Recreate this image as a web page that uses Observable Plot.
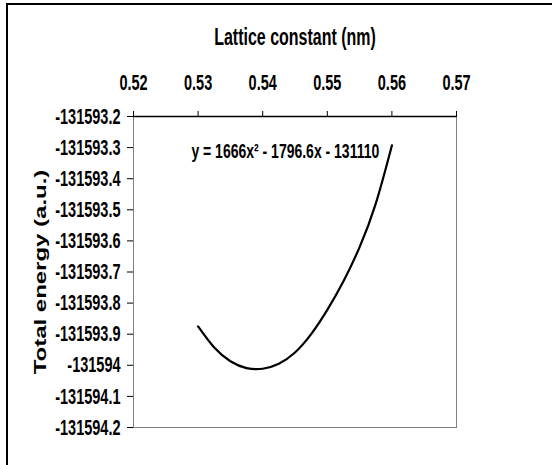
<!DOCTYPE html>
<html><head><meta charset="utf-8">
<script src="https://cdn.jsdelivr.net/npm/d3@7"></script>
<script src="https://cdn.jsdelivr.net/npm/@observablehq/plot@0.6"></script>
<style>
html,body{margin:0;padding:0;background:#fff;}
#wrap{position:relative;width:552px;height:465px;overflow:hidden;}
#border{position:absolute;left:6px;top:3px;width:700px;height:700px;border-left:2px solid #000;border-top:2px solid #000;pointer-events:none;}
</style></head><body>
<div id="wrap"><div id="chart"></div><div id="border"></div></div>
<script>
const latticeConstants = [0.53, 0.5325, 0.535, 0.5375, 0.54, 0.5425, 0.545, 0.5475, 0.55, 0.5525, 0.555, 0.5575, 0.56];
const totalEnergies = [-131593.875, -131593.943, -131593.987, -131594.009, -131594.011, -131593.995, -131593.959, -131593.900, -131593.822, -131593.730, -131593.620, -131593.480, -131593.293];
const xTicks = [0.52, 0.53, 0.54, 0.55, 0.56, 0.57];
const yTicks = [-131593.2, -131593.3, -131593.4, -131593.5, -131593.6, -131593.7, -131593.8, -131593.9, -131594.0, -131594.1, -131594.2];
const xTitle = "Lattice constant (nm)";
const yTitle = "Total energy (a.u.)";
const fitLabel = ["y = 1666x² - 1796.6x - 131110"];
const fitLabelX = [0.5435];
const fitLabelY = [-131593.31];

const data = latticeConstants.map((x, i) => ({x, y: totalEnergies[i]}));
const fmtY = d => { const s = d.toFixed(1); return s.endsWith(".0") ? s.slice(0, -2) : s; };

const plot = Plot.plot({
  width: 552, height: 465,
  marginLeft: 133, marginRight: 96, marginTop: 116, marginBottom: 38,
  style: {fontFamily: "'Liberation Sans', Arial, sans-serif", fontWeight: "bold", background: "white", color: "black"},
  x: {domain: [0.52, 0.57], axis: null},
  y: {domain: [-131594.2, -131593.2], axis: null},
  marks: [
    Plot.frame({stroke: "#808080"}),
    Plot.ruleY([yTicks[0]], {stroke: "black", strokeWidth: 1.5}),
    Plot.axisX({anchor: "top", ticks: xTicks, tickSize: 6, tickPadding: 23, tickFormat: d => d.toFixed(2), fontSize: 14.5, label: null, stroke: "black"}),
    Plot.axisY({anchor: "left", ticks: yTicks, tickSize: 6, tickPadding: 7, tickFormat: fmtY, fontSize: 14.5, label: null}),
    Plot.text([xTitle], {frameAnchor: "top", lineAnchor: "middle", dy: -79, fontSize: 16, fontWeight: "bold", text: d => d}),
    Plot.text([yTitle], {frameAnchor: "left", textAnchor: "middle", lineAnchor: "middle", rotate: -90, dx: -93, fontSize: 16, fontWeight: "bold", text: d => d}),
    Plot.line(data, {x: "x", y: "y", curve: "natural", stroke: "black", strokeWidth: 2.2}),
    Plot.text(fitLabel, {x: (d, i) => fitLabelX[i], y: (d, i) => fitLabelY[i], text: d => d, fontSize: 14, fontWeight: "bold"})
  ]
});
document.getElementById("chart").appendChild(plot);

// vertical stretch of text glyphs, as in the reference
const S = 1.5;
plot.querySelectorAll("text").forEach(t => {
  const g = document.createElementNS("http://www.w3.org/2000/svg", "g");
  t.parentNode.insertBefore(g, t);
  g.appendChild(t);
  const b = g.getBBox();
  const cy = b.y + b.height / 2;
  g.setAttribute("transform", `translate(0,${cy}) scale(1,${S}) translate(0,${-cy})`);
});
</script>
</body></html>
